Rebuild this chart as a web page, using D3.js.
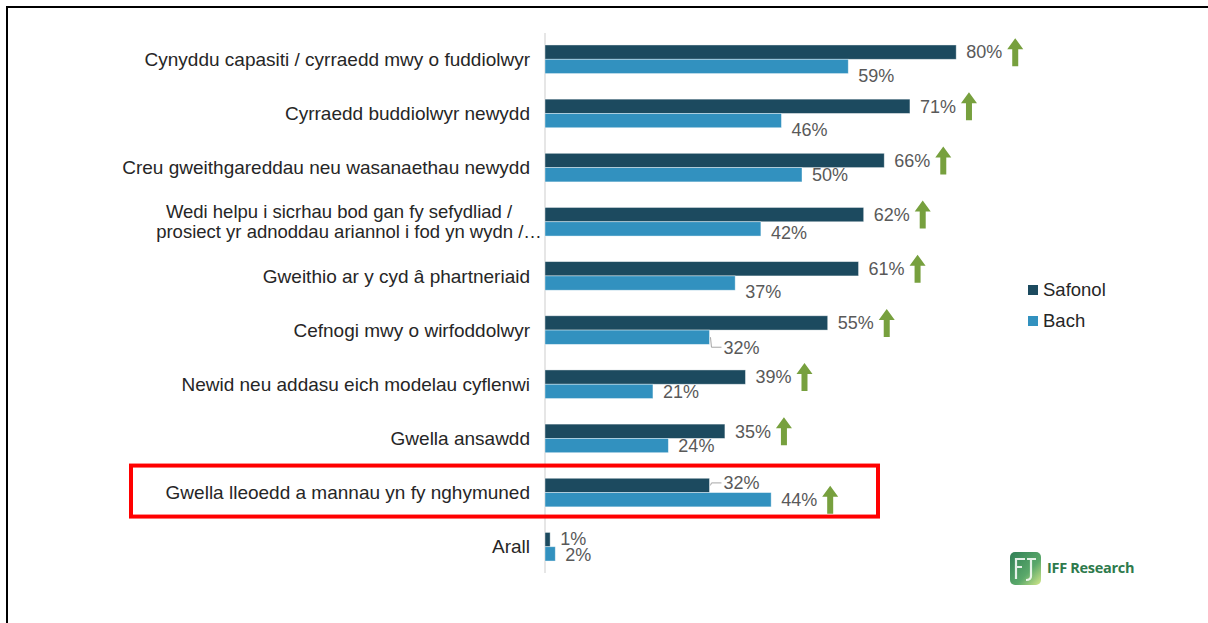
<!DOCTYPE html>
<html><head><meta charset="utf-8">
<script src="https://cdn.jsdelivr.net/npm/d3@7"></script>
<style>html,body{margin:0;padding:0;background:#fff;}svg{display:block;}</style>
</head><body>
<svg id="c" width="1208" height="623"></svg>
<script>
const categories = [
  "Cynyddu capasiti / cyrraedd mwy o fuddiolwyr",
  "Cyrraedd buddiolwyr newydd",
  "Creu gweithgareddau neu wasanaethau newydd",
  "Wedi helpu i sicrhau bod gan fy sefydliad /\nprosiect yr adnoddau ariannol i fod yn wydn /…",
  "Gweithio ar y cyd â phartneriaid",
  "Cefnogi mwy o wirfoddolwyr",
  "Newid neu addasu eich modelau cyflenwi",
  "Gwella ansawdd",
  "Gwella lleoedd a mannau yn fy nghymuned",
  "Arall"
];
const seriesNames = ["Safonol", "Bach"];
const safonol = [80, 71, 66, 62, 61, 55, 39, 35, 32, 1];
const bach = [59, 46, 50, 42, 37, 32, 21, 24, 44, 2];
// which series carries the significance arrow per category (null = none)
const arrowOn = ["Safonol","Safonol","Safonol","Safonol","Safonol","Safonol","Safonol","Safonol","Bach",null];
const highlighted = "Gwella lleoedd a mannau yn fy nghymuned";

// layout (label nudges as in the original)
const bachLabelDy = [9, 9, 0, 4, 9, 10, 0, 0, 0, 1];
const safLabelDy  = [0, 0, 0, 0, 0, 0, 0, 0, -2.5, -1];
const leaderSeries = {5: "Bach", 8: "Safonol"};

const colors = {Safonol: "#1c4a5f", Bach: "#3291bf"};
const svg = d3.select("#c");
const font = "'Liberation Sans', Arial, sans-serif";

// frame lines
svg.append("line").attr("x1",6).attr("x2",1208).attr("y1",7).attr("y2",7).attr("stroke","#000").attr("stroke-width",2);
svg.append("line").attr("x1",7).attr("x2",7).attr("y1",6).attr("y2",623).attr("stroke","#000").attr("stroke-width",2);

const x = d3.scaleLinear().domain([0, 100]).range([545, 1059]);
const y = d3.scaleBand().domain(categories).range([32.2, 573.8]).paddingInner(0.472).paddingOuter(0.236);
const ySub = d3.scaleBand().domain(seriesNames).range([0, y.bandwidth()]);

// axis line
svg.append("line").attr("x1",x(0)).attr("x2",x(0)).attr("y1",33).attr("y2",573)
  .attr("stroke","#d9d9d9").attr("stroke-width",1.3);

// category labels
const catG = svg.append("g");
categories.forEach(c => {
  const lines = c.split("\n");
  const yc = y(c) + y.bandwidth()/2;
  if (lines.length === 1) {
    catG.append("text").attr("x", 530).attr("y", yc).attr("dy","0.35em")
      .attr("text-anchor","end").attr("font-family",font).attr("font-size",19).attr("fill","#262626").text(c);
  } else {
    const lh = 20;
    lines.forEach((l,i) => {
      catG.append("text").attr("x", 344 + (i===0 ? -5 : 5)).attr("y", yc + (i - (lines.length-1)/2)*lh).attr("dy","0.35em")
        .attr("text-anchor","middle").attr("font-family",font).attr("font-size",18.5).attr("fill","#262626").text(l);
    });
  }
});

const data = categories.map((c,i) => ({cat:c, i:i, vals:[{s:"Safonol", v:safonol[i]}, {s:"Bach", v:bach[i]}]}));

const rowG = svg.selectAll("g.row").data(data).join("g").attr("class","row")
  .attr("transform", d => `translate(0,${y(d.cat)})`);

rowG.selectAll("rect").data(d => d.vals).join("rect")
  .attr("x", x(0)).attr("y", d => ySub(d.s)).attr("width", d => x(d.v) - x(0)).attr("height", ySub.bandwidth())
  .attr("fill", d => colors[d.s]).attr("stroke","#ffffff").attr("stroke-opacity",0.5).attr("stroke-width",0.8);

// value labels + arrows
function arrowPath(cx, cy) {
  const h = 28, hw = 8, sw = 3, hh = 11;
  const top = cy - h/2, bot = cy + h/2;
  return `M${cx},${top} L${cx+hw},${top+hh} L${cx+sw},${top+hh} L${cx+sw},${bot} L${cx-sw},${bot} L${cx-sw},${top+hh} L${cx-hw},${top+hh} Z`;
}

data.forEach(d => {
  d.vals.forEach(v => {
    const yTop = y(d.cat) + ySub(v.s);
    const yc = yTop + ySub.bandwidth()/2;
    const dy = v.s === "Bach" ? bachLabelDy[d.i] : safLabelDy[d.i];
    const hasLeader = leaderSeries[d.i] === v.s;
    const gap = hasLeader ? 14 : 10;
    const lx = x(v.v) + gap;
    const ly = yc + dy;
    const t = svg.append("text").attr("x", lx).attr("y", ly).attr("dy","0.35em")
      .attr("font-family",font).attr("font-size",18).attr("fill","#595959").text(v.v + "%");
    if (hasLeader) {
      const x0 = x(v.v) + 1;
      svg.append("path").attr("d", `M${x0},${yc} L${x0+1},${ly} L${lx-2},${ly}`)
        .attr("fill","none").attr("stroke","#a6a6a6").attr("stroke-width",1);
    }
    if (arrowOn[d.i] === v.s) {
      const w = t.node().getComputedTextLength();
      svg.append("path").attr("d", arrowPath(lx + w + 13, yc)).attr("fill","#77a03e");
    }
  });
});

// highlight box
const hy = y(highlighted) + y.bandwidth()/2;
svg.append("rect").attr("x",131).attr("y",hy-27).attr("width",747).attr("height",51)
  .attr("fill","none").attr("stroke","#ff0000").attr("stroke-width",4);

// legend
const leg = svg.append("g");
seriesNames.forEach((s,i) => {
  const ly = 290 + i*31;
  leg.append("rect").attr("x",1028).attr("y",ly-5).attr("width",10).attr("height",10).attr("fill",colors[s]);
  leg.append("text").attr("x",1043).attr("y",ly).attr("dy","0.35em").attr("font-family",font).attr("font-size",18.5).attr("fill","#262626").text(s);
});

// logo
const defs = svg.append("defs");
const grad = defs.append("linearGradient").attr("id","lg").attr("x1","0").attr("y1","0").attr("x2","1").attr("y2","1");
grad.append("stop").attr("offset","0").attr("stop-color","#2f7f55");
grad.append("stop").attr("offset","0.6").attr("stop-color","#5aa86a");
grad.append("stop").attr("offset","1").attr("stop-color","#d4e88a");
const logo = svg.append("g").attr("transform","translate(1010,552)");
logo.append("rect").attr("x",0).attr("y",0).attr("width",31).attr("height",33).attr("rx",5).attr("fill","url(#lg)");
logo.append("path").attr("d","M6,27 L6,7 L15,7 M6,15 L12,15 M17,7 L26,7 M21,7 L21,24 Q21,28 16,28")
  .attr("fill","none").attr("stroke","#ffffff").attr("stroke-width",2.2).attr("stroke-opacity",0.85);
logo.append("text").attr("x",37).attr("y",21).attr("font-family","'Open Sans', 'Liberation Sans', sans-serif")
  .attr("font-weight","bold").attr("font-size",14.5).attr("fill","#2e7a4c").attr("letter-spacing",-0.3).text("IFF Research");
</script>
</body></html>
